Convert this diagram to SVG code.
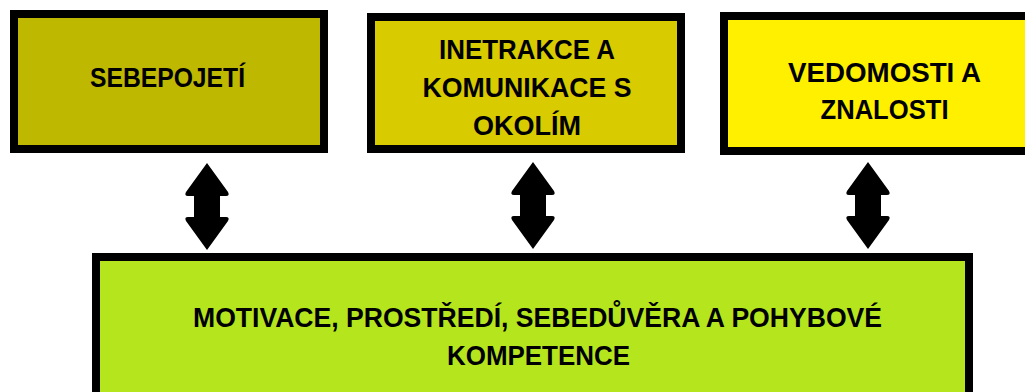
<svg xmlns="http://www.w3.org/2000/svg" width="1025" height="392" viewBox="0 0 1025 392">
  <style>
    .box { stroke: #000; stroke-width: 8; }
    .lbl { font-family: "Liberation Sans", Arial, sans-serif; font-weight: bold; font-size: 27px; fill: #000; text-anchor: middle; }
    .arr { fill: #000; }
  </style>
  <defs>
    <path id="dbl" d="M0,0 L21,29 Q23,33 19,33 L13,33 L13,54 L19,54 Q23,54 21,58 L0,87 L-21,58 Q-23,54 -19,54 L-13,54 L-13,33 L-19,33 Q-23,33 -21,29 Z"/>
  </defs>
  <rect width="1025" height="392" fill="#fff"/>
  <g id="n1">
    <rect class="box" x="14" y="14" width="310" height="135" fill="#BFB800"/>
    <text class="lbl" x="167.5" y="87" textLength="155" lengthAdjust="spacingAndGlyphs">SEBEPOJETÍ</text>
  </g>
  <g id="n2">
    <rect class="box" x="371" y="17" width="310" height="132" fill="#D8CB00"/>
    <text class="lbl" x="527" y="59" textLength="176" lengthAdjust="spacingAndGlyphs">INETRAKCE A</text>
    <text class="lbl" x="527" y="97" textLength="209" lengthAdjust="spacingAndGlyphs">KOMUNIKACE S</text>
    <text class="lbl" x="527" y="135" textLength="108" lengthAdjust="spacingAndGlyphs">OKOLÍM</text>
  </g>
  <g id="n3">
    <rect class="box" x="724" y="16" width="320" height="135" fill="#FFF000"/>
    <text class="lbl" x="884.5" y="82" textLength="193" lengthAdjust="spacingAndGlyphs">VEDOMOSTI A</text>
    <text class="lbl" x="884.5" y="119" textLength="128" lengthAdjust="spacingAndGlyphs">ZNALOSTI</text>
  </g>
  <g id="n4">
    <rect class="box" x="96" y="257" width="873" height="150" fill="#B5E61D"/>
    <text class="lbl" x="537.5" y="327" textLength="689" lengthAdjust="spacingAndGlyphs">MOTIVACE, PROSTŘEDÍ, SEBEDŮVĚRA A POHYBOVÉ</text>
    <text class="lbl" x="538.5" y="365" textLength="183" lengthAdjust="spacingAndGlyphs">KOMPETENCE</text>
  </g>
  <g id="connectors">
    <use href="#dbl" class="arr" transform="translate(207,163)"/>
    <use href="#dbl" class="arr" transform="translate(533,162)"/>
    <use href="#dbl" class="arr" transform="translate(868,162)"/>
  </g>
</svg>
